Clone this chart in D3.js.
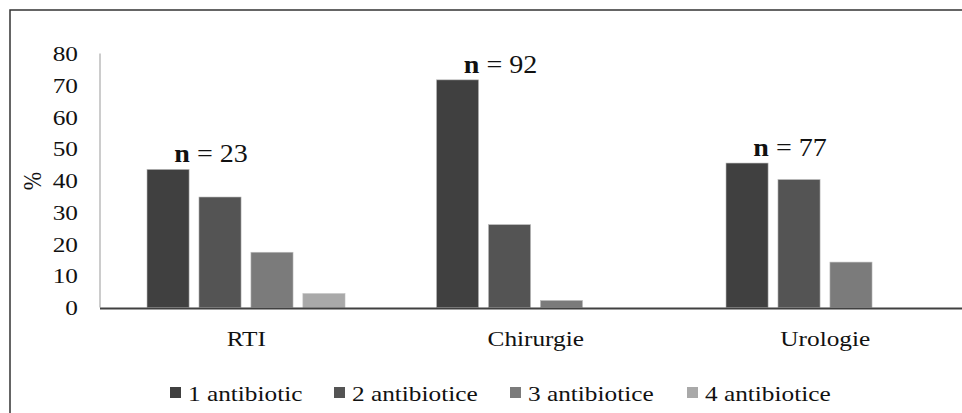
<!DOCTYPE html>
<html>
<head>
<meta charset="utf-8">
<style>
  body { margin: 0; background: #fff; }
  .frame { fill: none; stroke: #333; stroke-width: 1.5; }
</style>
</head>
<body>
<svg id="chart" width="962" height="413"></svg>
<script src="https://cdn.jsdelivr.net/npm/d3@7"></script>
<script>
// data (percent of patients per department)
const categories = ["RTI", "Chirurgie", "Urologie"]
const series = ["1 antibiotic", "2 antibiotice", "3 antibiotice", "4 antibiotice"]
const values = {
  "RTI":       [43.5, 34.8, 17.4, 4.35],
  "Chirurgie": [71.7, 26.1, 2.2, null],
  "Urologie":  [45.5, 40.3, 14.3, null]
}
const nLabels = ["23", "92", "77"]
const yTicks = [0, 10, 20, 30, 40, 50, 60, 70, 80]
const colors = ["#404040", "#545454", "#7b7b7b", "#a9a9a9"]

// the source picture is a bit stretched sideways, so text is too
const stretch = 1.15
const place = (x, y, s) => "translate(" + x + "," + y + ") scale(" + (s || stretch) + ",1)"

let svg = d3.select("#chart").attr("font-family", "'Liberation Serif', 'Times New Roman', serif")

// outer frame (runs off the right and bottom of the picture)
svg.append("rect").attr("class", "frame")
  .attr("x", 10).attr("y", 10).attr("width", 970).attr("height", 420)

let yScale = d3.scaleLinear().domain([0, 80]).range([307.5, 53.5])

let x0 = d3.scaleBand().domain(categories).range([100, 968.5])
let x1 = d3.scaleBand().domain(series).range([47, 245]).paddingInner(0.19)

// y axis: thin gray line, labels on the left
svg.append("line")
  .attr("x1", 100).attr("x2", 100)
  .attr("y1", yScale(80)).attr("y2", yScale(0))
  .attr("stroke", "#999").attr("stroke-width", 1)

svg.append("g").selectAll("text")
  .data(yTicks)
  .join("text")
  .attr("transform", d => place(78, yScale(d)))
  .attr("dy", "0.35em")
  .attr("text-anchor", "end")
  .attr("font-size", 22)
  .attr("fill", "#111")
  .text(d => d)

svg.append("text")
  .attr("transform", "translate(41,181) rotate(-90) scale(1,1.1)")
  .attr("text-anchor", "middle")
  .attr("font-size", 22)
  .attr("fill", "#111")
  .text("%")

// bars
let groups = svg.append("g").selectAll("g")
  .data(categories)
  .join("g")
  .attr("transform", d => "translate(" + x0(d) + ",0)")

groups.selectAll("rect")
  .data(c => series.map((s, i) => ({ s: s, i: i, v: values[c][i] })).filter(d => d.v != null))
  .join("rect")
  .attr("x", d => x1(d.s))
  .attr("width", x1.bandwidth())
  .attr("y", d => yScale(d.v))
  .attr("height", d => yScale(0) - yScale(d.v))
  .attr("fill", d => colors[d.i])
  .attr("stroke", "#bbb")
  .attr("stroke-width", 0.6)

// x axis baseline
svg.append("line")
  .attr("x1", 100).attr("x2", 968)
  .attr("y1", 308.5).attr("y2", 308.5)
  .attr("stroke", "#404040").attr("stroke-width", 2)

// category labels
svg.append("g").selectAll("text")
  .data(categories)
  .join("text")
  .attr("transform", d => place(x0(d) + x0.bandwidth() / 2 + 1.5, 346))
  .attr("text-anchor", "middle")
  .attr("font-size", 22)
  .attr("fill", "#111")
  .text(d => d)

// n = .. labels above the first bar of each group
let nText = svg.append("g").selectAll("text")
  .data(categories)
  .join("text")
  .attr("transform", d => place(x0(d) + x1(series[0]) + x1.bandwidth() / 2 + 43, yScale(values[d][0]) - 7, 1.1))
  .attr("text-anchor", "middle")
  .attr("font-size", 25.5)
  .attr("fill", "#111")

nText.append("tspan").attr("font-weight", "bold").text("n")
nText.append("tspan").text((d, i) => " = " + nLabels[i])

// legend
let legendX = [170, 334, 510, 687]
let legend = svg.append("g").selectAll("g")
  .data(series)
  .join("g")
  .attr("transform", (d, i) => "translate(" + legendX[i] + ",387)")

legend.append("rect")
  .attr("width", 11).attr("height", 11)
  .attr("fill", (d, i) => colors[i])

legend.append("text")
  .attr("transform", place(18, 13.5))
  .attr("font-size", 22)
  .attr("fill", "#111")
  .text(d => d)
</script>
</body>
</html>
